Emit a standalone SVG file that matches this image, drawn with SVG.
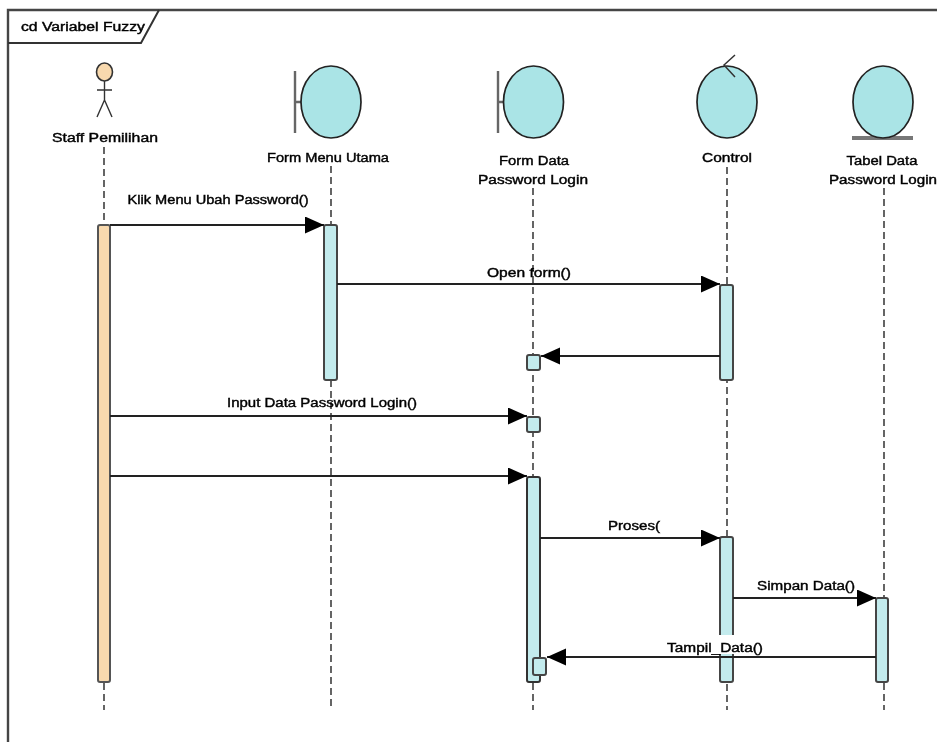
<svg xmlns="http://www.w3.org/2000/svg" width="937" height="742" viewBox="0 0 937 742">
<style>
.t{font-family:"Liberation Sans",Arial,sans-serif;font-size:12.5px;fill:#000;text-anchor:middle;stroke:#000;stroke-width:.4}
.f{fill:none;stroke:#333;stroke-width:2}
.e{fill:#aae4e6;stroke:#222;stroke-width:1.7}
.b{fill:none;stroke:#666;stroke-width:2.4}
.a{fill:#c3ebed;stroke:#444;stroke-width:2}
.ll{stroke:#222;stroke-width:1.4;stroke-dasharray:7 4;fill:none}
.m{stroke:#222;stroke-width:1.8;fill:none;marker-end:url(#ah)}
</style>
<defs>
<marker id="ah" markerUnits="userSpaceOnUse" markerWidth="22" markerHeight="18" refX="19" refY="8.500" orient="auto">
<path d="M0,0L19,8.500L0,17Z" fill="#000"/>
</marker>
<filter id="soft" x="-2%" y="-2%" width="104%" height="104%"><feGaussianBlur stdDeviation="0.45"/></filter>
</defs>
<rect width="937" height="742" fill="#fff"/>
<g filter="url(#soft)">
<g id="frame">
<path d="M937,10H8V742" stroke="#444" stroke-width="2.4" fill="none"/>
<path class="f" d="M8,43H141L159,10"/>
<text class="t" x="83" y="31" style="font-size:12px" textLength="124" lengthAdjust="spacingAndGlyphs">cd Variabel Fuzzy</text>
</g>
<g id="lifelines">
<path class="ll" d="M104,147V225M104,683V710"/>
<path class="ll" d="M331,166V225M331,380V710"/>
<path class="ll" d="M533,188V710"/>
<path class="ll" d="M727,167V710"/>
<path class="ll" d="M884,188V598M884,683V710"/>
</g>
<g id="staff-pemilihan">
<ellipse cx="104.500" cy="72" rx="8" ry="9" fill="#f8d9ae" stroke="#333" stroke-width="1.600"/>
<path d="M104.500,81V100M97,90H112M104.500,100L97,117M104.500,100L112,117" fill="none" stroke="#333" stroke-width="1.400"/>
<text class="t" x="105" y="142" textLength="106" lengthAdjust="spacingAndGlyphs">Staff Pemilihan</text>
</g>
<g id="form-menu-utama">
<path class="b" d="M295,71V133M295,102H301"/>
<ellipse class="e" cx="331" cy="102" rx="30" ry="36"/>
<text class="t" x="328" y="162" textLength="122" lengthAdjust="spacingAndGlyphs">Form Menu Utama</text>
</g>
<g id="form-data">
<path class="b" d="M498,71V133M498,102H504"/>
<ellipse class="e" cx="533.500" cy="102" rx="30" ry="36"/>
<text class="t" x="534" y="165" textLength="70" lengthAdjust="spacingAndGlyphs">Form Data</text>
<text class="t" x="533" y="184" textLength="110" lengthAdjust="spacingAndGlyphs">Password Login</text>
</g>
<g id="control">
<ellipse class="e" cx="727" cy="102" rx="30" ry="36"/>
<path d="M735,55L724,65L735,77" fill="none" stroke="#333" stroke-width="1.500"/>
<text class="t" x="727" y="162" textLength="50" lengthAdjust="spacingAndGlyphs">Control</text>
</g>
<g id="tabel-data">
<path d="M852,138H913" stroke="#777" stroke-width="4" fill="none"/>
<ellipse class="e" cx="883" cy="102" rx="30" ry="36"/>
<text class="t" x="882" y="165" textLength="71" lengthAdjust="spacingAndGlyphs">Tabel Data</text>
<text class="t" x="883" y="184" textLength="108" lengthAdjust="spacingAndGlyphs">Password Login</text>
</g>
<g id="activations">
<rect x="98" y="225" width="12" height="457" rx="2" fill="#f8d9ae" stroke="#555" stroke-width="2"/>
<rect class="a" x="324" y="225" width="13" height="155" rx="2"/>
<rect class="a" x="527" y="355" width="13" height="15" rx="2"/>
<rect class="a" x="527" y="417" width="13" height="15" rx="2"/>
<rect x="527" y="477" width="13" height="205" rx="2" fill="#c3ebed" stroke="#333" stroke-width="2"/>
<rect class="a" x="533" y="658" width="13" height="17" rx="2"/>
<rect class="a" x="720" y="285" width="13" height="95" rx="2"/>
<rect class="a" x="720" y="537" width="13" height="145" rx="2"/>
<rect class="a" x="876" y="598" width="12" height="84" rx="2"/>
</g>
<g id="connectors">
<path class="m" d="M110,225H324"/>
<path class="m" d="M337,284H720"/>
<path class="m" d="M720,356H541"/>
<path class="m" d="M110,416H527"/>
<path class="m" d="M110,476H527"/>
<path class="m" d="M540,538H720"/>
<path class="m" d="M733,598H876"/>
<rect x="664" y="635" width="102" height="19" fill="#fff"/>
<path class="m" d="M876,657H547"/>
</g>
<g id="labels">
<text class="t" x="218" y="204" textLength="181" lengthAdjust="spacingAndGlyphs">Klik Menu Ubah Password()</text>
<text class="t" x="529" y="277" textLength="84" lengthAdjust="spacingAndGlyphs">Open form()</text>
<text class="t" x="322" y="407" textLength="190" lengthAdjust="spacingAndGlyphs">Input Data Password Login()</text>
<text class="t" x="634" y="530" textLength="52" lengthAdjust="spacingAndGlyphs">Proses(</text>
<text class="t" x="806" y="590" textLength="98" lengthAdjust="spacingAndGlyphs">Simpan Data()</text>
<text class="t" x="715" y="652" textLength="96" lengthAdjust="spacingAndGlyphs">Tampil_Data()</text>
</g>
</g>
</svg>
